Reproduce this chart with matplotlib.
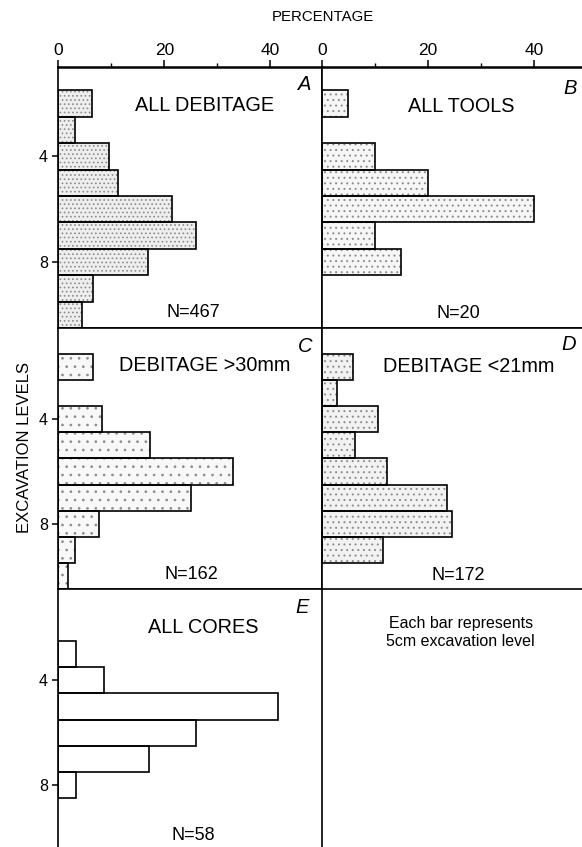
import numpy as np
import matplotlib
matplotlib.use("Agg")
import matplotlib.pyplot as plt

plt.rcParams['font.family'] = ['Liberation Sans', 'DejaVu Sans']
plt.rcParams['hatch.linewidth'] = 0.7

###data (percent per 5cm excavation level)
levels = [2, 3, 4, 5, 6, 7, 8, 9, 10]
all_debitage = [6.3, 3.2, 9.6, 11.2, 21.4, 26.0, 17.0, 6.6, 4.4]
all_tools = [5, 0, 10, 20, 40, 10, 15, 0, 0]
debitage_gt30 = [6.5, 0, 8.3, 17.3, 32.9, 25.0, 7.7, 3.1, 1.8]
debitage_lt21 = [5.9, 2.9, 10.7, 6.3, 12.3, 23.7, 24.6, 11.6, 0]
all_cores = [0, 3.4, 8.6, 41.4, 25.9, 17.2, 3.4, 0, 0]

titles = ["ALL DEBITAGE", "ALL TOOLS", "DEBITAGE >30mm", "DEBITAGE <21mm", "ALL CORES"]
letters = ["A", "B", "C", "D", "E"]
counts = ["N=467", "N=20", "N=162", "N=172", "N=58"]
x_ticks = [0, 20, 40]
y_ticks = [4, 8]

W, H = 582, 847
fig = plt.figure(figsize=(W / 100, H / 100), dpi=100)

def box(x0, x1, top, bottom):
    # pixel box -> figure fraction
    return [x0 / W, 1 - bottom / H, (x1 - x0) / W, (bottom - top) / H]

xl, xm, xr = 58.3, 321.7, 582
panels = [
    # values, rect, xmax, ylim top, hatch, face, title pos, letter pos, N pos
    (all_debitage, box(xl, xm, 66.7, 328), 49.7, 0.6, '....', '#eeeeee', (0.557, 0.851), (0.937, 0.93), (0.511, 0.061)),
    (all_tools, box(xm, xr, 66.7, 328), 49.1, 0.6, '...', '#f6f6f6', (0.538, 0.847), (0.954, 0.915), (0.524, 0.054)),
    (debitage_gt30, box(xl, xm, 328, 589), 49.7, 0.5, '..', '#f8f8f8', (0.554, 0.858), (0.937, 0.928), (0.507, 0.054)),
    (debitage_lt21, box(xm, xr, 328, 589), 49.1, 0.5, '...', '#f2f2f2', (0.566, 0.852), (0.95, 0.935), (0.524, 0.051)),
    (all_cores, box(xl, xm, 589, 850), 49.7, 0.5, '', 'white', (0.55, 0.853), (0.924, 0.931), (0.513, 0.057)),
]

for i, (vals, rect, xmax, ytop, hatch, face, tpos, lpos, npos) in enumerate(panels):
    ax = fig.add_axes(rect)
    v = np.array(vals, dtype=float)
    lv = np.array(levels)
    keep = v > 0
    # stipple fill, then black outline on top
    ax.barh(lv[keep], v[keep], height=1.0, color=face, edgecolor='#8c8c8c',
            hatch=hatch, linewidth=0)
    ax.barh(lv[keep], v[keep], height=1.0, fill=False, edgecolor='black', linewidth=1.2)
    ax.set_xlim(0, xmax)
    ax.set_ylim(10.5, ytop)

    for s in ax.spines.values():
        s.set_linewidth(1.2)
    if i in (1, 3):
        ax.spines['right'].set_visible(False)
    if i == 4:
        ax.spines['bottom'].set_visible(False)

    # top percentage axis only on first row
    if i < 2:
        ax.xaxis.tick_top()
        ax.set_xticks(x_ticks)
        ax.set_xticks([10, 30], minor=True)
        ax.tick_params(axis='x', which='major', length=5, width=1.1, pad=1, labelsize=12.5)
        ax.tick_params(axis='x', which='minor', length=3, width=1.0)
        ax.spines['top'].set_linewidth(1.8)
    else:
        ax.set_xticks([])

    # level ticks on left column
    if i in (0, 2, 4):
        ax.set_yticks(y_ticks)
        ax.tick_params(axis='y', length=4.5, width=1.1, pad=3, labelsize=11.5)
    else:
        ax.set_yticks([])

    ax.text(tpos[0], tpos[1], titles[i], transform=ax.transAxes, ha='center', va='center', fontsize=14.3)
    ax.text(lpos[0], lpos[1], letters[i], transform=ax.transAxes, ha='center', va='center',
            fontsize=14.5, style='italic')
    ax.text(npos[0], npos[1], counts[i], transform=ax.transAxes, ha='center', va='center', fontsize=13)

fig.text(323 / W, 1 - 16.7 / H, "PERCENTAGE", ha='center', va='center', fontsize=10.8)
fig.text(25 / W, 1 - 447 / H, "EXCAVATION LEVELS", ha='center', va='center', rotation=90,
         fontsize=12)
fig.text(460.8 / W, 1 - 632.8 / H, "Each bar represents\n5cm excavation level", ha='center',
         va='center', fontsize=11.5, linespacing=1.25)

fig.savefig("out.png", dpi=100)
